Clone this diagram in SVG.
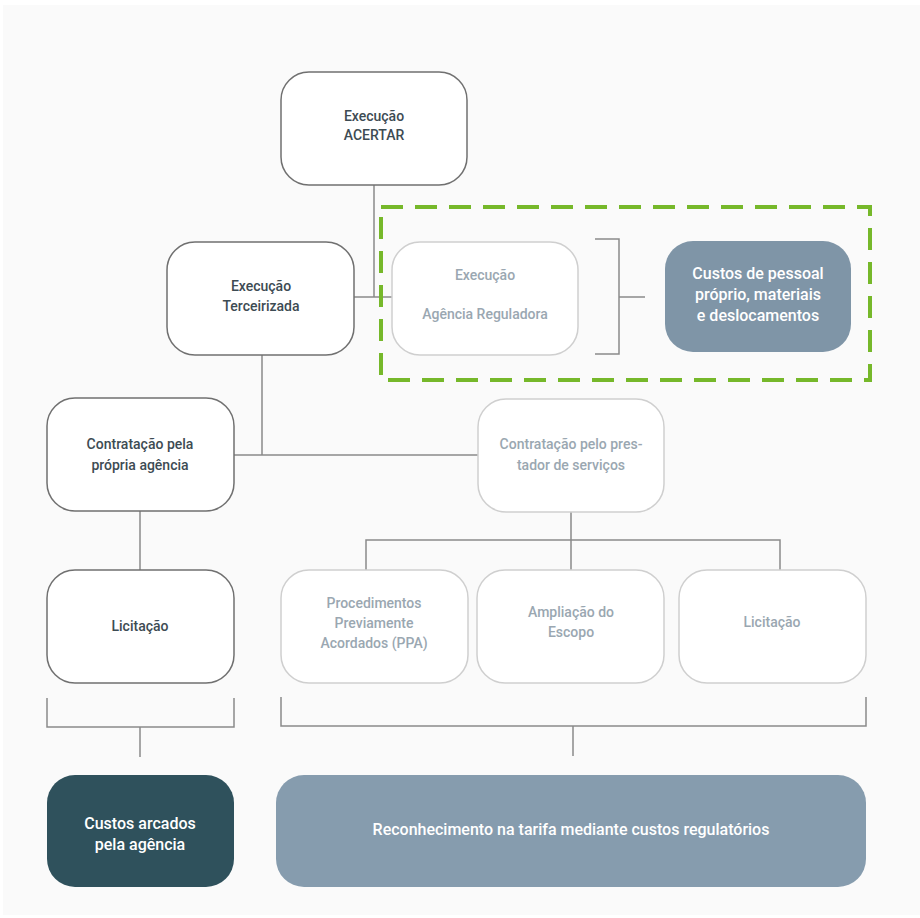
<svg xmlns="http://www.w3.org/2000/svg" width="920" height="918" viewBox="0 0 920 918">
<style>
.bg{fill:#fafafa}
.n{fill:#ffffff;stroke:#707070;stroke-width:1.5}
.nl{fill:#ffffff;stroke:#cfcfcf;stroke-width:1.5}
.c{fill:none;stroke:#8a8a8a;stroke-width:1.5}
.t{font-family:Roboto,"Liberation Sans",sans-serif;font-size:14px;font-weight:500;text-anchor:middle}
.td{fill:#3d4b53}
.tl{fill:#9aa7b1}
.tw{fill:#ffffff;font-size:16px}
</style>
<rect x="0" y="0" width="920" height="918" fill="#ffffff"/>
<rect class="bg" x="3" y="5" width="917" height="910"/>
<g id="connectors">
<path class="c" d="M374 185 V297 M354 297 H392"/>
<path class="c" d="M595 239 H619 V354 H595 M619 297 H645"/>
<path class="c" d="M262 355 V455 M234 455 H478"/>
<path class="c" d="M571 512 V570 M366 570 V540 H780 V570"/>
<path class="c" d="M140 511 V570"/>
<path class="c" d="M47 698 V727 H234 V698 M140 727 V757"/>
<path class="c" d="M281 697 V726 H866 V697 M573 726 V756"/>
</g>
<g id="highlight">
<rect x="381" y="207" width="489" height="173" fill="none" stroke="#76b82a" stroke-width="4" stroke-dasharray="22 12"/>
</g>
<g id="acertar">
<rect class="n" x="281" y="72" width="186" height="113" rx="28"/>
<text class="t td" x="374" y="121">Execução</text>
<text class="t td" x="374" y="140">ACERTAR</text>
</g>
<g id="terceirizada">
<rect class="n" x="167" y="242" width="187" height="113" rx="28"/>
<text class="t td" x="261" y="291">Execução</text>
<text class="t td" x="261" y="311">Terceirizada</text>
</g>
<g id="agencia">
<rect class="nl" x="392" y="242" width="186" height="113" rx="28"/>
<text class="t tl" x="485" y="280">Execução</text>
<text class="t tl" x="485" y="319">Agência Reguladora</text>
</g>
<g id="custos-pessoal">
<rect x="665" y="241" width="186" height="111" rx="28" fill="#7f95a7"/>
<text class="t tw" x="758" y="279">Custos de pessoal</text>
<text class="t tw" x="758" y="300">próprio, materiais</text>
<text class="t tw" x="758" y="321">e deslocamentos</text>
</g>
<g id="contratacao-agencia">
<rect class="n" x="47" y="398" width="187" height="113" rx="28"/>
<text class="t td" x="140" y="449">Contratação pela</text>
<text class="t td" x="140" y="470">própria agência</text>
</g>
<g id="contratacao-prestador">
<rect class="nl" x="478" y="399" width="186" height="113" rx="28"/>
<text class="t tl" x="571" y="449">Contratação pelo pres-</text>
<text class="t tl" x="571" y="470">tador de serviços</text>
</g>
<g id="licitacao-agencia">
<rect class="n" x="47" y="570" width="187" height="113" rx="28"/>
<text class="t td" x="140" y="631">Licitação</text>
</g>
<g id="ppa">
<rect class="nl" x="281" y="570" width="187" height="113" rx="28"/>
<text class="t tl" x="374" y="608">Procedimentos</text>
<text class="t tl" x="374" y="628">Previamente</text>
<text class="t tl" x="374" y="648">Acordados (PPA)</text>
</g>
<g id="ampliacao">
<rect class="nl" x="477" y="570" width="187" height="113" rx="28"/>
<text class="t tl" x="571" y="617">Ampliação do</text>
<text class="t tl" x="571" y="637">Escopo</text>
</g>
<g id="licitacao-prestador">
<rect class="nl" x="679" y="570" width="187" height="113" rx="28"/>
<text class="t tl" x="772" y="627">Licitação</text>
</g>
<g id="custos-agencia">
<rect x="47" y="775" width="187" height="112" rx="28" fill="#2f515c"/>
<text class="t tw" x="140" y="829">Custos arcados</text>
<text class="t tw" x="140" y="850">pela agência</text>
</g>
<g id="reconhecimento">
<rect x="276" y="775" width="590" height="112" rx="28" fill="#869cae"/>
<text class="t tw" x="571" y="835">Reconhecimento na tarifa mediante custos regulatórios</text>
</g>
</svg>
